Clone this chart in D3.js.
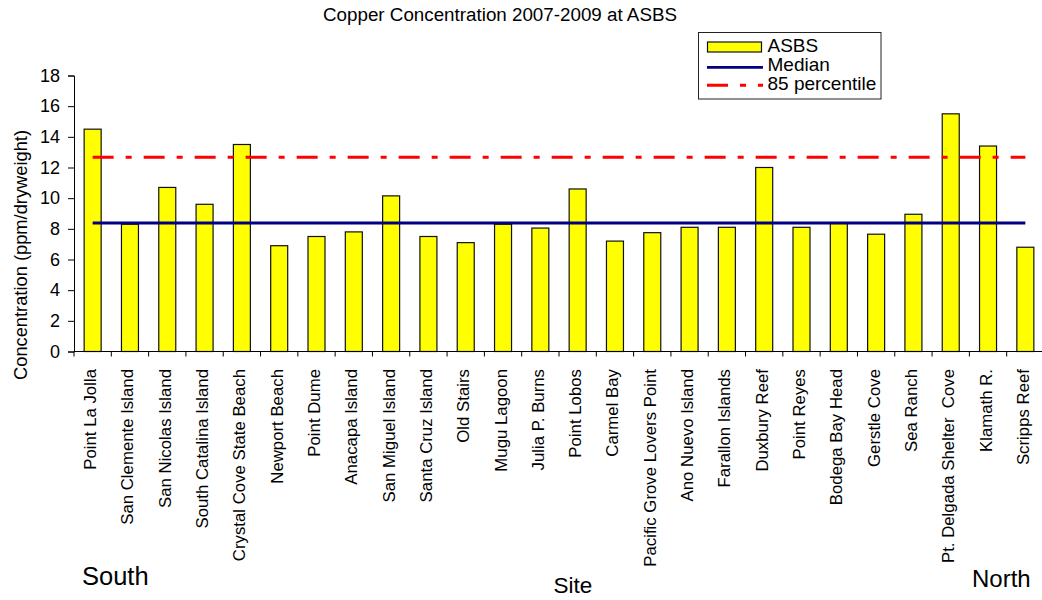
<!DOCTYPE html>
<html>
<head>
<meta charset="utf-8">
<script src="https://cdn.jsdelivr.net/npm/d3@7"></script>
<style>
  html, body { margin: 0; padding: 0; background: #fff; }
  svg { display: block; font-family: "Liberation Sans", Arial, sans-serif; }
  text { white-space: pre; }
</style>
</head>
<body>
<svg id="chart" width="1042" height="600"></svg>
<script>
const sites = ["Point La Jolla", "San Clemente Island", "San Nicolas Island", "South Catalina Island",
  "Crystal Cove State Beach", "Newport Beach", "Point Dume", "Anacapa Island", "San Miguel Island",
  "Santa Cruz Island", "Old Stairs", "Mugu Lagoon", "Julia P. Burns", "Point Lobos", "Carmel Bay",
  "Pacific Grove Lovers Point", "Ano Nuevo Island", "Farallon Islands", "Duxbury Reef", "Point Reyes",
  "Bodega Bay Head", "Gerstle Cove", "Sea Ranch", "Pt. Delgada Shelter  Cove", "Klamath R.", "Scripps Reef"];
const asbs = [14.5, 8.3, 10.7, 9.6, 13.5, 6.9, 7.5, 7.8, 10.15, 7.5, 7.1, 8.3, 8.05, 10.6, 7.2,
  7.75, 8.1, 8.1, 12.0, 8.1, 8.35, 7.65, 8.95, 15.5, 13.4, 6.8];
const median = 8.38;
const percentile85 = 12.67;
const yTicks = [0, 2, 4, 6, 8, 10, 12, 14, 16, 18];
const legendLabels = ["ASBS", "Median", "85 percentile"];

const svg = d3.select("#chart");
const mLeft = 74, mRight = 1044, mTop = 75.5, mBottom = 351.5;

const xb = d3.scaleBand().domain(sites).range([mLeft, mRight]);
const y = d3.scaleLinear().domain([0, 18]).range([mBottom, mTop]);
const barW = 17;

// Title
svg.append("text").attr("x", 500).attr("y", 21).attr("text-anchor", "middle")
  .attr("font-size", 18.8).text("Copper Concentration 2007-2009 at ASBS");

// Bars
svg.append("g").selectAll("rect").data(sites).join("rect")
  .attr("x", d => xb(d) + xb.bandwidth() / 2 - barW / 2)
  .attr("width", barW)
  .attr("y", (d, i) => y(asbs[i]))
  .attr("height", (d, i) => y(0) - y(asbs[i]))
  .attr("fill", "#ffff00").attr("stroke", "#111").attr("stroke-width", 1.2);

// Y axis
const yAxis = svg.append("g").attr("transform", `translate(${mLeft},0)`)
  .call(d3.axisLeft(y).tickValues(yTicks).tickSize(6).tickPadding(8));
yAxis.select(".domain").attr("stroke", "#000");
yAxis.selectAll("text").attr("font-size", 18).attr("font-family", "Liberation Sans, Arial, sans-serif").attr("fill", "#000");

// X axis (ticks at band edges)
const xAxisG = svg.append("g").attr("transform", `translate(0,${mBottom})`);
xAxisG.append("line").attr("x1", mLeft).attr("x2", mRight).attr("stroke", "#000");
xAxisG.selectAll("line.tick").data(sites).join("line").attr("class", "tick")
  .attr("x1", d => xb(d)).attr("x2", d => xb(d)).attr("y1", 0).attr("y2", 5).attr("stroke", "#000");

// X labels
svg.append("g").selectAll("text").data(sites).join("text")
  .attr("transform", d => `translate(${xb(d) + xb.bandwidth() / 2 + 3.5},369) rotate(-90)`)
  .attr("text-anchor", "end").attr("font-size", 16.8).text(d => d);

// Lines
const x0 = xb(sites[0]) + xb.bandwidth() / 2;
const x1 = xb(sites[sites.length - 1]) + xb.bandwidth() / 2;
svg.append("line").attr("x1", x0).attr("x2", x1).attr("y1", y(median)).attr("y2", y(median))
  .attr("stroke", "#000080").attr("stroke-width", 2.8);
svg.append("line").attr("x1", x0).attr("x2", x1).attr("y1", y(percentile85)).attr("y2", y(percentile85))
  .attr("stroke", "#ff0000").attr("stroke-width", 3).attr("stroke-dasharray", "21,12,6,12");

// Axis titles
svg.append("text").attr("transform", "translate(27,255) rotate(-90)").attr("text-anchor", "middle")
  .attr("font-size", 18.3).text("Concentration (ppm/dryweight)");
svg.append("text").attr("x", 573).attr("y", 593).attr("text-anchor", "middle").attr("font-size", 22.5).text("Site");
svg.append("text").attr("x", 82).attr("y", 585).attr("font-size", 25.5).text("South");
svg.append("text").attr("x", 972).attr("y", 587).attr("font-size", 24).text("North");

// Legend
const lg = svg.append("g");
lg.append("rect").attr("x", 698.5).attr("y", 32.5).attr("width", 182.5).attr("height", 66.5)
  .attr("fill", "#fff").attr("stroke", "#222");
lg.append("rect").attr("x", 707.5).attr("y", 42).attr("width", 54).attr("height", 10)
  .attr("fill", "#ffff00").attr("stroke", "#111").attr("stroke-width", 1.2);
lg.append("line").attr("x1", 707).attr("x2", 763).attr("y1", 67.3).attr("y2", 67.3)
  .attr("stroke", "#000080").attr("stroke-width", 2.8);
lg.append("line").attr("x1", 707).attr("x2", 763).attr("y1", 85.3).attr("y2", 85.3)
  .attr("stroke", "#ff0000").attr("stroke-width", 3).attr("stroke-dasharray", "21,12,6,12");
lg.selectAll("text.lab").data(legendLabels).join("text").attr("class", "lab")
  .attr("x", 767.5).attr("y", (d, i) => 52 + i * 19.2).attr("font-size", 19).text(d => d);
</script>
</body>
</html>
